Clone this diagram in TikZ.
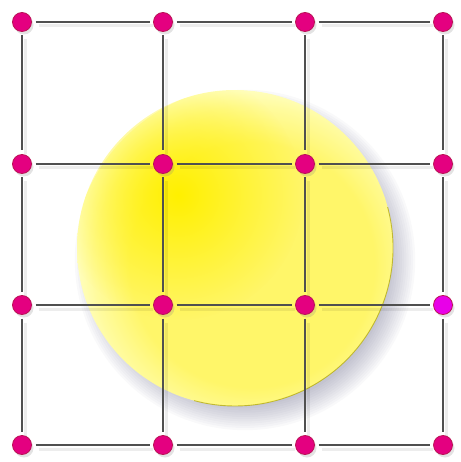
\documentclass[tikz,border=0pt]{standalone}
\usetikzlibrary{positioning,shadows,fadings}
\definecolor{dotpink}{RGB}{228,0,128}
\definecolor{dotedge}{RGB}{185,20,85}
\definecolor{dotviolet}{RGB}{232,0,232}
\definecolor{gridgray}{RGB}{80,80,80}
\definecolor{shadeblue}{RGB}{70,70,110}
\definecolor{sunA}{RGB}{255,240,0}
\definecolor{sunB}{RGB}{255,246,105}
\definecolor{sunRim}{RGB}{255,255,200}
\pgfdeclareradialshading{disc}{\pgfpoint{0bp}{0bp}}{color(0bp)=(sunB);
color(17bp)=(sunB); color(22bp)=(sunRim!55!sunB); color(25bp)=(sunRim); color(50bp)=(sunRim)}
\tikzfading[name=glow,inner color=transparent!0,outer color=transparent!100]

\begin{document}
\begin{tikzpicture}[x=1pt,y=-1pt,
dot/.style={circle,fill=dotpink,draw=dotedge,line width=0.8pt,minimum size=19pt,
inner sep=0pt,outer sep=4pt,drop shadow={opacity=0.22,shadow xshift=2pt,shadow yshift=-3pt}},
wire/.style={gridgray,line width=1.4pt,
preaction={draw,black,opacity=0.07,line width=3pt,transform canvas={shift={(3pt,-4pt)}}}}]
\useasboundingbox (0,0) rectangle (460,462);
% soft shadow under the disc
\foreach \k in {0,...,11}
  \fill[shadeblue,opacity=0.03] (245,260) circle (146+\k*2.2);
% the disc
\begin{scope}
\clip (235,248) circle (158);
\shade[shading=disc] (252,265) circle (180);
\fill[sunA,path fading=glow] (178,195) circle (125);
\end{scope}
\draw[olive!70!yellow,line width=0.9pt,opacity=0.7] (235,248) ++(-15:158) arc (-15:105:158);
% grid points
\foreach \row/\y in {1/22,2/164,3/305,4/445}
  \foreach \col/\x in {1/22,2/163,3/305,4/443}{
    \ifnum\row\col=34 \def\dotcol{dotviolet}\else\def\dotcol{dotpink}\fi
    \node[dot,fill=\dotcol] (p\row\col) at (\x,\y) {};
  }
% grid lines
\foreach \a in {1,...,4}
  \foreach \b/\n in {1/2,2/3,3/4}{
    \draw[wire] (p\a\b) -- (p\a\n);
    \draw[wire] (p\b\a) -- (p\n\a);
  }
\end{tikzpicture}
\end{document}
